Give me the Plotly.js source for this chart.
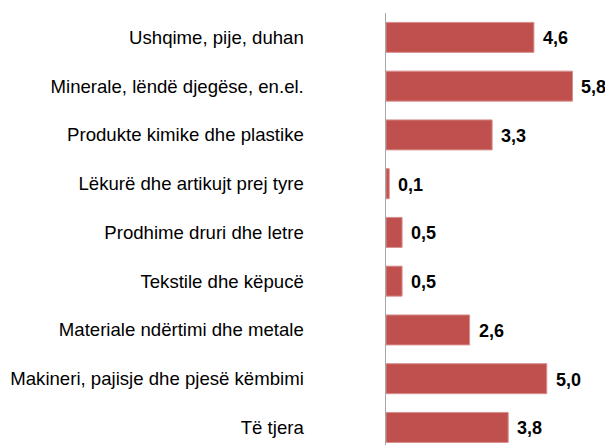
<!DOCTYPE html>
<html>
<head>
<meta charset="utf-8">
<script src="https://cdn.plot.ly/plotly-3.0.1.min.js"></script>
<style>
html,body{margin:0;padding:0;background:#fff;}
#chart{width:605px;height:445px;}
</style>
</head>
<body>
<div id="chart"></div>
<script>
const categories = [
  "Ushqime, pije, duhan",
  "Minerale, lëndë djegëse, en.el.",
  "Produkte kimike dhe plastike",
  "Lëkurë dhe artikujt prej tyre",
  "Prodhime druri dhe letre",
  "Tekstile dhe këpucë",
  "Materiale ndërtimi dhe metale",
  "Makineri, pajisje dhe pjesë këmbimi",
  "Të tjera"
];
const values = [4.6, 5.8, 3.3, 0.1, 0.5, 0.5, 2.6, 5.0, 3.8];
const valueLabels = ["4,6", "5,8", "3,3", "0,1", "0,5", "0,5", "2,6", "5,0", "3,8"];

const font = "'Liberation Sans', Arial, sans-serif";

const trace = {
  type: "bar",
  orientation: "h",
  x: values,
  y: categories,
  marker: {color: "#C0504D", line: {color: "#D68F8D", width: 1}},
  hoverinfo: "skip"
};

const annotations = categories.map((c, i) => ({
  x: values[i],
  y: c,
  xref: "x",
  yref: "y",
  text: "<b>" + valueLabels[i] + "</b>",
  showarrow: false,
  xanchor: "left",
  yanchor: "middle",
  xshift: 7,
  yshift: -1,
  font: {family: font, size: 18, color: "#000"}
}));

const layout = {
  width: 605,
  height: 445,
  margin: {l: 386, r: 10, t: 13, b: 0, pad: 0},
  paper_bgcolor: "#fff",
  plot_bgcolor: "#fff",
  showlegend: false,
  bargap: 0.385,
  font: {family: font, size: 18, color: "#000"},
  xaxis: {
    range: [0, 6.5],
    visible: false,
    fixedrange: true
  },
  yaxis: {
    type: "category",
    range: [8.36, -0.5],
    showline: true,
    linecolor: "#A6A6A6",
    linewidth: 1.5,
    showgrid: false,
    zeroline: false,
    ticks: "",
    ticklabelstandoff: 77,
    tickfont: {family: font, size: 18.6, color: "#000"},
    fixedrange: true
  },
  annotations: annotations
};

Plotly.newPlot("chart", [trace], layout, {displayModeBar: false, staticPlot: true});
</script>
</body>
</html>
